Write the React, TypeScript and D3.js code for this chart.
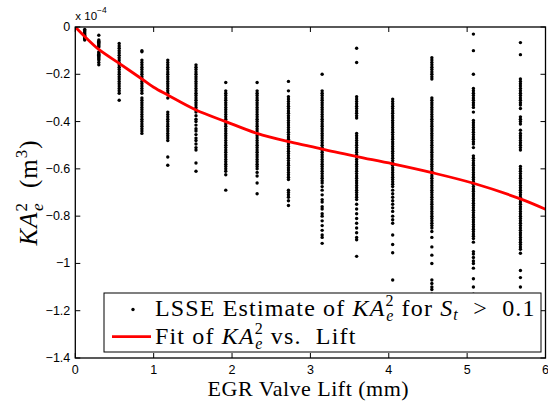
import React from 'react';
import * as d3 from 'd3';

// lift set-points (mm) where the LSSE estimates were collected
const liftLevels = [0.12, 0.30, 0.56, 0.85, 1.18, 1.54, 1.92, 2.32, 2.72, 3.15, 3.59, 4.05, 4.55, 5.08, 5.68];

// KA_e^2 estimates, x 1e-4 m^3, one array per lift level
const est01 = [-0.01, -0.015, -0.02, -0.025, -0.03, -0.035, -0.04, -0.045, -0.05, -0.055];
const est02 = [-0.035, -0.055, -0.06, -0.065, -0.07, -0.075, -0.08, -0.085, -0.105, -0.11, -0.115, -0.12, -0.125, -0.13, -0.135, -0.14, -0.15, -0.16];
const est03 = [-0.07, -0.08, -0.09, -0.1, -0.11, -0.12, -0.13, -0.14, -0.15, -0.16, -0.17, -0.18, -0.19, -0.2, -0.21, -0.22, -0.23, -0.24, -0.25, -0.26, -0.27, -0.28, -0.31];
const est04 = [-0.1, -0.105, -0.14, -0.15, -0.16, -0.17, -0.18, -0.19, -0.2, -0.21, -0.22, -0.23, -0.24, -0.25, -0.26, -0.27, -0.28, -0.3, -0.31, -0.32, -0.33, -0.34, -0.35, -0.36, -0.37, -0.38, -0.39, -0.4, -0.41, -0.42, -0.43, -0.44, -0.45];
const est05 = [-0.14, -0.15, -0.16, -0.17, -0.18, -0.19, -0.2, -0.21, -0.22, -0.23, -0.24, -0.25, -0.26, -0.27, -0.28, -0.3, -0.36, -0.37, -0.38, -0.39, -0.4, -0.41, -0.42, -0.43, -0.44, -0.45, -0.46, -0.47, -0.48, -0.55, -0.585];
const est06 = [-0.16, -0.17, -0.18, -0.19, -0.2, -0.21, -0.22, -0.23, -0.24, -0.25, -0.26, -0.27, -0.28, -0.29, -0.3, -0.31, -0.32, -0.33, -0.34, -0.35, -0.36, -0.375, -0.39, -0.4, -0.415, -0.43, -0.44, -0.455, -0.47, -0.48, -0.495, -0.51, -0.52, -0.575, -0.61];
const est07 = [-0.235, -0.27, -0.28, -0.29, -0.3, -0.31, -0.32, -0.33, -0.34, -0.35, -0.36, -0.37, -0.38, -0.39, -0.4, -0.41, -0.42, -0.43, -0.44, -0.45, -0.46, -0.47, -0.48, -0.49, -0.5, -0.51, -0.52, -0.53, -0.54, -0.55, -0.56, -0.57, -0.58, -0.59, -0.6, -0.61, -0.625, -0.69];
const est08 = [-0.235, -0.27, -0.28, -0.29, -0.3, -0.31, -0.32, -0.33, -0.34, -0.35, -0.36, -0.37, -0.38, -0.39, -0.4, -0.41, -0.42, -0.43, -0.44, -0.45, -0.46, -0.47, -0.48, -0.49, -0.5, -0.51, -0.52, -0.53, -0.54, -0.55, -0.56, -0.57, -0.58, -0.59, -0.6, -0.615, -0.63, -0.66, -0.705];
const est09 = [-0.23, -0.27, -0.295, -0.305, -0.315, -0.325, -0.335, -0.345, -0.355, -0.365, -0.375, -0.385, -0.395, -0.405, -0.415, -0.425, -0.435, -0.445, -0.455, -0.465, -0.475, -0.485, -0.495, -0.505, -0.515, -0.525, -0.535, -0.545, -0.555, -0.565, -0.575, -0.585, -0.595, -0.605, -0.615, -0.625, -0.635, -0.645, -0.69, -0.7, -0.71, -0.72, -0.735, -0.755];
const est10 = [-0.2, -0.27, -0.28, -0.29, -0.3, -0.31, -0.32, -0.33, -0.34, -0.35, -0.36, -0.37, -0.38, -0.39, -0.4, -0.41, -0.42, -0.43, -0.44, -0.45, -0.46, -0.47, -0.48, -0.49, -0.5, -0.51, -0.52, -0.53, -0.54, -0.55, -0.56, -0.57, -0.58, -0.59, -0.6, -0.61, -0.62, -0.63, -0.64, -0.65, -0.66, -0.675, -0.69, -0.71, -0.73, -0.74, -0.76, -0.77, -0.79, -0.8, -0.82, -0.84, -0.86, -0.88, -0.89, -0.915];
const est11 = [-0.09, -0.15, -0.295, -0.305, -0.315, -0.325, -0.335, -0.345, -0.355, -0.365, -0.375, -0.385, -0.45, -0.46, -0.47, -0.48, -0.49, -0.5, -0.51, -0.52, -0.53, -0.54, -0.55, -0.56, -0.57, -0.58, -0.59, -0.6, -0.61, -0.62, -0.63, -0.64, -0.65, -0.66, -0.67, -0.68, -0.69, -0.7, -0.71, -0.72, -0.73, -0.75, -0.77, -0.79, -0.81, -0.83, -0.85, -0.87, -0.89, -0.9, -0.97];
const est12 = [-0.305, -0.315, -0.325, -0.335, -0.345, -0.355, -0.365, -0.375, -0.385, -0.395, -0.405, -0.415, -0.425, -0.435, -0.445, -0.455, -0.465, -0.475, -0.485, -0.495, -0.505, -0.515, -0.525, -0.535, -0.545, -0.555, -0.565, -0.575, -0.585, -0.595, -0.605, -0.615, -0.625, -0.635, -0.645, -0.655, -0.665, -0.675, -0.69, -0.705, -0.72, -0.735, -0.75, -0.765, -0.78, -0.8, -0.815, -0.83, -0.88, -0.92, -0.955, -1.07];
const est13 = [-0.13, -0.14, -0.15, -0.16, -0.17, -0.18, -0.19, -0.2, -0.21, -0.22, -0.3, -0.31, -0.32, -0.33, -0.34, -0.35, -0.36, -0.37, -0.38, -0.39, -0.4, -0.41, -0.42, -0.43, -0.44, -0.45, -0.46, -0.47, -0.48, -0.49, -0.5, -0.51, -0.52, -0.53, -0.54, -0.55, -0.56, -0.57, -0.58, -0.59, -0.6, -0.61, -0.62, -0.63, -0.64, -0.65, -0.66, -0.67, -0.68, -0.69, -0.7, -0.71, -0.72, -0.73, -0.74, -0.75, -0.76, -0.77, -0.78, -0.79, -0.8, -0.81, -0.82, -0.83, -0.84, -0.85, -0.865, -0.89, -0.93, -0.965, -1.0, -1.07, -1.085, -1.1, -1.11, -1.13, -1.16, -1.2];
const est14 = [-0.03, -0.1, -0.2, -0.26, -0.27, -0.28, -0.29, -0.3, -0.31, -0.32, -0.33, -0.34, -0.36, -0.395, -0.405, -0.415, -0.425, -0.435, -0.445, -0.455, -0.465, -0.475, -0.485, -0.495, -0.51, -0.545, -0.555, -0.565, -0.575, -0.585, -0.595, -0.605, -0.615, -0.625, -0.635, -0.645, -0.655, -0.665, -0.675, -0.685, -0.695, -0.705, -0.715, -0.725, -0.735, -0.745, -0.755, -0.765, -0.775, -0.785, -0.795, -0.805, -0.815, -0.825, -0.835, -0.845, -0.855, -0.865, -0.875, -0.885, -0.895, -0.91, -0.95, -0.96, -0.975, -0.99, -1.0, -1.02, -1.065, -1.1, -1.13, -1.17];
const est15 = [-0.066, -0.117, -0.22, -0.23, -0.24, -0.25, -0.26, -0.27, -0.28, -0.29, -0.3, -0.31, -0.32, -0.33, -0.345, -0.38, -0.39, -0.4, -0.41, -0.437, -0.45, -0.46, -0.47, -0.48, -0.49, -0.5, -0.51, -0.52, -0.59, -0.6, -0.61, -0.62, -0.63, -0.64, -0.65, -0.66, -0.67, -0.68, -0.69, -0.7, -0.71, -0.72, -0.73, -0.74, -0.75, -0.76, -0.77, -0.78, -0.79, -0.8, -0.81, -0.82, -0.83, -0.84, -0.85, -0.86, -0.87, -0.88, -0.89, -0.9, -0.91, -0.92, -0.93, -0.94, -0.957, -1.03, -1.06, -1.1];
const estimates = [est01, est02, est03, est04, est05, est06, est07, est08, est09, est10, est11, est12, est13, est14, est15];

// fitted curve
const fitLift = [0, 0.12, 0.3, 0.56, 0.85, 1.0, 1.18, 1.54, 1.92, 2.32, 2.72, 3.0, 3.15, 3.59, 4.05, 4.55, 5.08, 5.68, 6.0];
const fitKA = [0, -0.04, -0.095, -0.154, -0.22, -0.255, -0.288, -0.351, -0.4, -0.45, -0.485, -0.505, -0.517, -0.548, -0.579, -0.616, -0.661, -0.727, -0.771];

const xTicks = [0, 1, 2, 3, 4, 5, 6];
const yTicks = [0, -0.2, -0.4, -0.6, -0.8, -1, -1.2, -1.4];

const W = 548;
const H = 409;
const left = 75.3;
const right = 545.5;
const top = 27;
const bottom = 358;

const serif = '"Liberation Serif", "Times New Roman", serif';
const sans = '"Liberation Sans", Arial, Helvetica, sans-serif';
const nb = '\u00a0';

const fmtTick = (v: number) => (v === 0 ? '0' : String(v).replace('-', '\u2212'));

export default function App() {
  const x = d3.scaleLinear().domain([0, 6]).range([left, right]);
  const y = d3.scaleLinear().domain([-1.4, 0]).range([bottom, top]);

  const points = estimates.flatMap((col, i) => col.map((v) => ({ lift: liftLevels[i], v })));

  const fitPts: [number, number][] = fitLift.map((l, i) => [l, fitKA[i]]);
  const line = d3
    .line<[number, number]>()
    .x((d) => x(d[0]))
    .y((d) => y(d[1]))
    .curve(d3.curveCatmullRom);

  const tl = 5;

  return (
    <svg width={W} height={H} style={{ position: 'absolute', left: 0, top: 0, background: '#fff' }}>
      <rect x={0} y={0} width={W} height={H} fill="#fff" />
      <defs>
        <clipPath id="plot">
          <rect x={left} y={top} width={right - left} height={bottom - top} />
        </clipPath>
      </defs>

      <g clipPath="url(#plot)">
        {points.map((p, i) => (
          <circle key={i} cx={x(p.lift)} cy={y(p.v)} r={1.7} fill="#000" />
        ))}
        <path d={line(fitPts) || ''} fill="none" stroke="#f00" strokeWidth={2.8} />
      </g>

      {/* ticks, mirrored on all four sides */}
      <g stroke="#000" strokeWidth={1}>
        {xTicks.map((t) => (
          <g key={'x' + t}>
            <line x1={x(t)} x2={x(t)} y1={bottom} y2={bottom - tl} />
            <line x1={x(t)} x2={x(t)} y1={top} y2={top + tl} />
          </g>
        ))}
        {yTicks.map((t) => (
          <g key={'y' + t}>
            <line x1={left} x2={left + tl} y1={y(t)} y2={y(t)} />
            <line x1={right} x2={right - tl} y1={y(t)} y2={y(t)} />
          </g>
        ))}
      </g>
      <rect x={left} y={top} width={right - left} height={bottom - top} fill="none" stroke="#000" strokeWidth={1.3} />

      <g fontFamily={sans} fontSize={12.5} fill="#000">
        {xTicks.map((t) => (
          <text key={'xl' + t} x={x(t)} y={bottom + 15.5} textAnchor="middle">
            {fmtTick(t)}
          </text>
        ))}
        {yTicks.map((t) => (
          <text key={'yl' + t} x={left - 5} y={y(t)} textAnchor="end" dominantBaseline="central">
            {fmtTick(t)}
          </text>
        ))}
        <text x={left} y={20} fontSize={11.5}>
          x 10<tspan fontSize={8.5} dy={-7}>{'\u2212'}4</tspan>
        </text>
      </g>

      {/* axis labels */}
      <text x={(left + right) / 2 - 2} y={396} textAnchor="middle" fontFamily={serif} fontSize={22} letterSpacing={0.5}>
        EGR Valve Lift (mm)
      </text>
      <text
        transform={`translate(37, ${(top + bottom) / 2}) rotate(-90)`}
        textAnchor="middle"
        fontFamily={serif}
        fontSize={25}
        letterSpacing={1}
      >
        <tspan fontStyle="italic">KA</tspan>
        <tspan fontSize={17} dy={-10}>2</tspan>
        <tspan fontSize={17} fontStyle="italic" dx={-9} dy={16}>e</tspan>
        <tspan dy={-6}>{nb + nb + '(m'}</tspan>
        <tspan fontSize={17} dy={-10}>3</tspan>
        <tspan dy={10}>)</tspan>
      </text>

      {/* legend */}
      <rect x={104} y={293} width={437} height={59} fill="#fff" stroke="#000" strokeWidth={1} />
      <circle cx={133} cy={309.5} r={1.7} fill="#000" />
      <text x={155} y={316} fontFamily={serif} fontSize={24} letterSpacing={1.15}>
        {'LSSE Estimate of '}
        <tspan fontStyle="italic">KA</tspan>
        <tspan fontSize={16} dy={-10}>2</tspan>
        <tspan fontSize={16} fontStyle="italic" dx={-8.5} dy={15}>e</tspan>
        <tspan dy={-5}>{nb + 'for' + nb}</tspan>
        <tspan fontStyle="italic">S</tspan>
        <tspan fontSize={16} fontStyle="italic" dy={4}>t</tspan>
        <tspan dy={-4}>{nb + nb + '>' + nb + nb + '0.1'}</tspan>
      </text>
      <line x1={112} x2={151} y1={336.7} y2={336.7} stroke="#f00" strokeWidth={2.8} />
      <text x={155} y={343.5} fontFamily={serif} fontSize={24} letterSpacing={1.15}>
        {'Fit of '}
        <tspan fontStyle="italic">KA</tspan>
        <tspan fontSize={16} dy={-10}>2</tspan>
        <tspan fontSize={16} fontStyle="italic" dx={-8.5} dy={15}>e</tspan>
        <tspan dy={-5}>{nb + 'vs.' + nb + nb + 'Lift'}</tspan>
      </text>
    </svg>
  );
}
